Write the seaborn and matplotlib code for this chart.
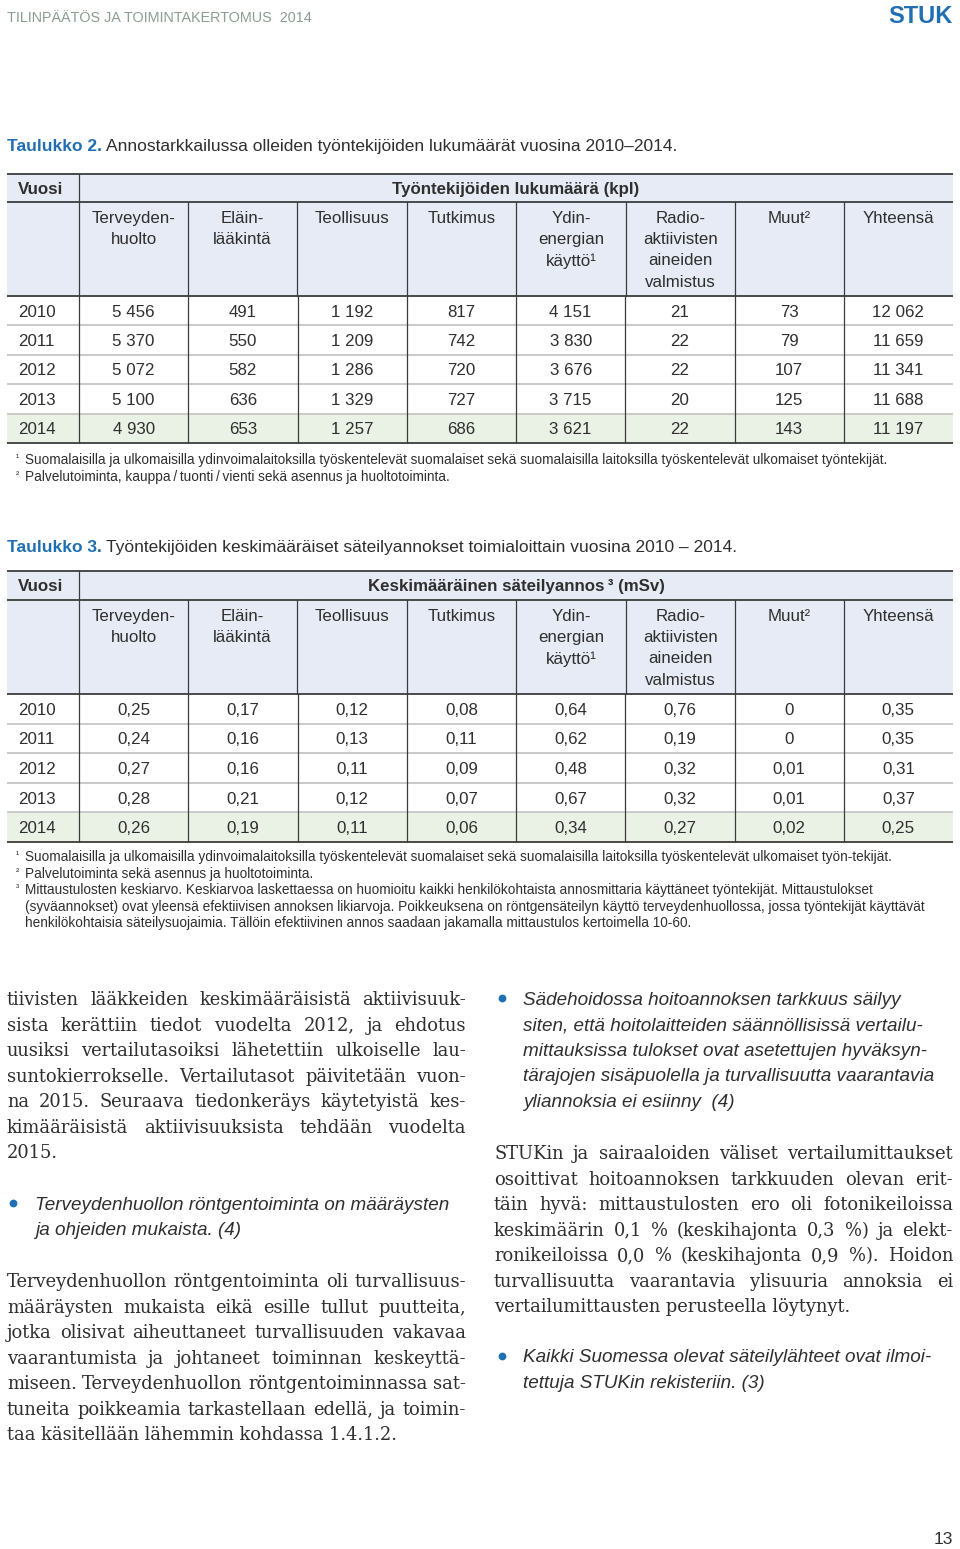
import numpy as np
import pandas as pd
import matplotlib
matplotlib.use("Agg")
import matplotlib.pyplot as plt
import seaborn as sns
from matplotlib.colors import ListedColormap
from matplotlib.patches import Rectangle

sns.set_theme(style="white")
plt.rcParams['font.family'] = ['Liberation Sans', 'DejaVu Sans']

# ---------------- data ----------------
years = [2010, 2011, 2012, 2013, 2014]
categories = ["Terveyden-\nhuolto", "Eläin-\nlääkintä", "Teollisuus", "Tutkimus",
              "Ydin-\nenergian\nkäyttö¹", "Radio-\naktiivisten\naineiden\nvalmistus",
              "Muut²", "Yhteensä"]

# Taulukko 2: työntekijöiden lukumäärä (kpl)
n_terveydenhuolto = [5456, 5370, 5072, 5100, 4930]
n_elainlaakinta = [491, 550, 582, 636, 653]
n_teollisuus = [1192, 1209, 1286, 1329, 1257]
n_tutkimus = [817, 742, 720, 727, 686]
n_ydinenergia = [4151, 3830, 3676, 3715, 3621]
n_radioakt = [21, 22, 22, 20, 22]
n_muut = [73, 79, 107, 125, 143]
n_yhteensa = [12062, 11659, 11341, 11688, 11197]

# Taulukko 3: keskimääräinen säteilyannos (mSv)
d_terveydenhuolto = [0.25, 0.24, 0.27, 0.28, 0.26]
d_elainlaakinta = [0.17, 0.16, 0.16, 0.21, 0.19]
d_teollisuus = [0.12, 0.13, 0.11, 0.12, 0.11]
d_tutkimus = [0.08, 0.11, 0.09, 0.07, 0.06]
d_ydinenergia = [0.64, 0.62, 0.48, 0.67, 0.34]
d_radioakt = [0.76, 0.19, 0.32, 0.32, 0.27]
d_muut = [0, 0, 0.01, 0.01, 0.02]
d_yhteensa = [0.35, 0.35, 0.31, 0.37, 0.25]

highlight_year = 2014

# ---------------- style ----------------
TXT = "#2f2f2f"
BLUE = "#1f6fb2"
HEAD_BG = "#e6ebf5"
HL_BG = "#eaf1e5"
DARK_LINE = "#3c3c3c"
LIGHT_LINE = "#c6c6c6"
SANS = ['Liberation Sans', 'DejaVu Sans']
SERIF = ['DejaVu Serif']

W, H = 960, 1549
fig = plt.figure(figsize=(W / 100, H / 100), dpi=100)
fig.patch.set_facecolor("white")


def rect(x0, y0, x1, y1):
    return [x0 / W, 1 - y1 / H, (x1 - x0) / W, (y1 - y0) / H]


page = fig.add_axes([0, 0, 1, 1])
page.set_xlim(0, W)
page.set_ylim(H, 0)
page.axis("off")
page.set_zorder(10)
page.patch.set_alpha(0)

renderer = fig.canvas.get_renderer()

col_edges = [7, 79, 188, 297, 407, 516, 626, 735, 844, 953]
TS = 12.2


def fmt_int(v):
    return f"{v:,}".replace(",", " ")


def fmt_dec(v):
    return "0" if v == 0 else f"{v:.2f}".replace(".", ",")


def draw_table(top, h1b, h2b, bottom, header, df, fmt):
    page.add_patch(Rectangle((col_edges[0], top), col_edges[-1] - col_edges[0], h2b - top,
                             fc=HEAD_BG, ec="none", zorder=0))
    page.text(18, (top + h1b) / 2 + 1, "Vuosi", weight="bold", fontsize=TS,
              color=TXT, va="center", ha="left")
    page.text((col_edges[1] + col_edges[-1]) / 2, (top + h1b) / 2 + 1, header,
              weight="bold", fontsize=TS, color=TXT, va="center", ha="center")
    for i, lab in enumerate(df.columns):
        cx = (col_edges[i + 1] + col_edges[i + 2]) / 2
        for j, line in enumerate(lab.split("\n")):
            page.text(cx, h2b - 78 + j * 21.4, line, ha="center", va="center",
                      fontsize=TS, color=TXT)
    hl = np.array([[1.0 if y == highlight_year else 0.0] * df.shape[1] for y in df.index])
    labels = df.apply(lambda c: c.map(fmt)).values
    cmap = ListedColormap(["white", HL_BG])
    ax_y = fig.add_axes(rect(col_edges[0], h2b, col_edges[1], bottom))
    sns.heatmap(hl[:, :1], ax=ax_y, cmap=cmap, vmin=0, vmax=1, cbar=False,
                annot=np.array([[str(y)] for y in df.index]), fmt="",
                annot_kws=dict(fontsize=TS, color=TXT),
                xticklabels=False, yticklabels=False)
    for t in ax_y.texts:
        t.set_ha("left")
        t.set_x((18 - col_edges[0]) / (col_edges[1] - col_edges[0]))
        t.set_y(t.get_position()[1] + 0.05)
    ax_b = fig.add_axes(rect(col_edges[1], h2b, col_edges[-1], bottom))
    sns.heatmap(hl, ax=ax_b, cmap=cmap, vmin=0, vmax=1, cbar=False,
                annot=labels, fmt="", annot_kws=dict(fontsize=TS, color=TXT),
                xticklabels=False, yticklabels=False)
    for t in ax_b.texts:
        t.set_y(t.get_position()[1] + 0.05)
    for ax in (ax_y, ax_b):
        for k in range(1, df.shape[0]):
            ax.axhline(k, color=LIGHT_LINE, lw=1.3)
    for k in range(0, df.shape[1]):
        ax_b.axvline(k, color=DARK_LINE, lw=0.9, clip_on=False)
    for y in [top, h1b, h2b, bottom]:
        page.plot([col_edges[0], col_edges[-1]], [y, y], color=DARK_LINE, lw=1.3,
                  solid_capstyle="butt")
    page.plot([col_edges[1]] * 2, [top, h2b], color=DARK_LINE, lw=0.9)
    for x in col_edges[2:-1]:
        page.plot([x, x], [h1b, h2b], color=DARK_LINE, lw=0.9)


def title(y, blue, rest):
    t = page.text(7, y, blue, color=BLUE, fontsize=12.5, va="center", ha="left",
                  weight="semibold")
    w = t.get_window_extent(renderer).width
    page.text(7 + w + 4, y, rest, color=TXT, fontsize=12.5, va="center", ha="left")


def word_widths(words, size, family, style="normal"):
    ws = []
    for w in words:
        t = page.text(0, 0, w, fontsize=size, family=family, style=style)
        ws.append(t.get_window_extent(renderer).width)
        t.remove()
    return ws


def fit_size(paragraphs, width, family, ref=10.0, min_gap_em=0.24, cap=13.6):
    best = cap
    for lines in paragraphs:
        for line in lines[:-1]:
            words = line.split(" ")
            ws = word_widths(words, ref, family)
            need = sum(ws) + (len(words) - 1) * min_gap_em * ref * 100 / 72
            best = min(best, ref * width / need)
    return best


def justify(lines, x0, x1, y0, dy, size, family, style="normal"):
    for i, line in enumerate(lines):
        y = y0 + i * dy
        words = line.split(" ")
        if i == len(lines) - 1 or len(words) == 1:
            page.text(x0, y, line, fontsize=size, family=family, style=style,
                      color=TXT, va="center", ha="left")
            continue
        ts = [page.text(0, y, w, fontsize=size, family=family, style=style,
                        color=TXT, va="center", ha="left") for w in words]
        ws = [t.get_window_extent(renderer).width for t in ts]
        gap = (x1 - x0 - sum(ws)) / (len(words) - 1)
        x = x0
        for t, w in zip(ts, ws):
            t.set_x(x)
            x += w + gap


def ragged(lines, x0, y0, dy, size, family, style="normal"):
    for i, line in enumerate(lines):
        page.text(x0, y0 + i * dy, line, fontsize=size, family=family, style=style,
                  color=TXT, va="center", ha="left")


def bullet(x, y):
    page.plot([x], [y], marker="o", ms=5.6, color=BLUE, mec="none")


# ---------------- page header ----------------
page.text(7, 18, "TILINPÄÄTÖS JA TOIMINTAKERTOMUS  2014", color="#8a9e90",
          fontsize=10.4, va="center", ha="left")
page.text(953, 16, "STUK", color=BLUE, fontsize=17, weight="bold", va="center", ha="right")

# ---------------- Taulukko 2 ----------------
title(146, "Taulukko 2.", "Annostarkkailussa olleiden työntekijöiden lukumäärät vuosina 2010–2014.")
df2 = pd.DataFrame({c: v for c, v in zip(categories, [
    n_terveydenhuolto, n_elainlaakinta, n_teollisuus, n_tutkimus,
    n_ydinenergia, n_radioakt, n_muut, n_yhteensa])}, index=years)
draw_table(174, 202, 296, 443, "Työntekijöiden lukumäärä (kpl)", df2, fmt_int)

FN = 9.85
SUP = 7
fn2 = [("¹", "Suomalaisilla ja ulkomaisilla ydinvoimalaitoksilla työskentelevät suomalaiset sekä suomalaisilla laitoksilla työskentelevät ulkomaiset työntekijät."),
       ("²", "Palvelutoiminta, kauppa\u2009/\u2009tuonti\u2009/\u2009vienti sekä asennus ja huoltotoiminta.")]
for i, (s, t) in enumerate(fn2):
    page.text(16, 458 + i * 17, s, fontsize=SUP, color=TXT, va="center", ha="left")
    page.text(25, 460 + i * 17, t, fontsize=FN, color=TXT, va="center", ha="left")

# ---------------- Taulukko 3 ----------------
title(547, "Taulukko 3.", "Työntekijöiden keskimääräiset säteilyannokset toimialoittain vuosina 2010 – 2014.")
df3 = pd.DataFrame({c: v for c, v in zip(categories, [
    d_terveydenhuolto, d_elainlaakinta, d_teollisuus, d_tutkimus,
    d_ydinenergia, d_radioakt, d_muut, d_yhteensa])}, index=years)
draw_table(571, 600, 694, 842, "Keskimääräinen säteilyannos\u2009³ (mSv)", df3, fmt_dec)

fn3 = [("¹", ["Suomalaisilla ja ulkomaisilla ydinvoimalaitoksilla työskentelevät suomalaiset sekä suomalaisilla laitoksilla työskentelevät ulkomaiset työn-tekijät."]),
       ("²", ["Palvelutoiminta sekä asennus ja huoltotoiminta."]),
       ("³", ["Mittaustulosten keskiarvo. Keskiarvoa laskettaessa on huomioitu kaikki henkilökohtaista annosmittaria käyttäneet työntekijät. Mittaustulokset",
              "(syväannokset) ovat yleensä efektiivisen annoksen likiarvoja. Poikkeuksena on röntgensäteilyn käyttö terveydenhuollossa, jossa työntekijät käyttävät",
              "henkilökohtaisia säteilysuojaimia. Tällöin efektiivinen annos saadaan jakamalla mittaustulos kertoimella 10-60."])]
yy = 857
for s, ls in fn3:
    page.text(16, yy - 2, s, fontsize=SUP, color=TXT, va="center", ha="left")
    for l in ls:
        page.text(25, yy, l, fontsize=FN, color=TXT, va="center", ha="left")
        yy += 16.5

# ---------------- body text ----------------
DY = 25.55
ITAL = 13.6

p1 = ["tiivisten lääkkeiden keskimääräisistä aktiivisuuk-",
      "sista kerättiin tiedot vuodelta 2012, ja ehdotus",
      "uusiksi vertailutasoiksi lähetettiin ulkoiselle lau-",
      "suntokierrokselle. Vertailutasot päivitetään vuon-",
      "na 2015. Seuraava tiedonkeräys käytetyistä kes-",
      "kimääräisistä aktiivisuuksista tehdään vuodelta",
      "2015."]
p2 = ["Terveydenhuollon röntgentoiminta oli turvallisuus-",
      "määräysten mukaista eikä esille tullut puutteita,",
      "jotka olisivat aiheuttaneet turvallisuuden vakavaa",
      "vaarantumista ja johtaneet toiminnan keskeyttä-",
      "miseen. Terveydenhuollon röntgentoiminnassa sat-",
      "tuneita poikkeamia tarkastellaan edellä, ja toimin-",
      "taa käsitellään lähemmin kohdassa 1.4.1.2."]
p3 = ["STUKin ja sairaaloiden väliset vertailumittaukset",
      "osoittivat hoitoannoksen tarkkuuden olevan erit-",
      "täin hyvä: mittaustulosten ero oli fotonikeiloissa",
      "keskimäärin 0,1 % (keskihajonta 0,3 %) ja elekt-",
      "ronikeiloissa 0,0 % (keskihajonta 0,9 %). Hoidon",
      "turvallisuutta vaarantavia ylisuuria annoksia ei",
      "vertailumittausten perusteella löytynyt."]

BODY = fit_size([p1, p2, p3], 459, SERIF)

justify(p1, 7, 466, 1000, DY, BODY, SERIF)

bullet(13, 1203)
ragged(["Terveydenhuollon röntgentoiminta on määräysten",
        "ja ohjeiden mukaista. (4)"], 35, 1205, DY, ITAL, SANS, "italic")

justify(p2, 7, 466, 1282, DY, BODY, SERIF)

bullet(502, 998)
ragged(["Sädehoidossa hoitoannoksen tarkkuus säilyy",
        "siten, että hoitolaitteiden säännöllisissä vertailu-",
        "mittauksissa tulokset ovat asetettujen hyväksyn-",
        "tärajojen sisäpuolella ja turvallisuutta vaarantavia",
        "yliannoksia ei esiinny  (4)"], 523, 1000, DY, ITAL, SANS, "italic")

justify(p3, 494, 953, 1154, DY, BODY, SERIF)

bullet(502, 1356)
ragged(["Kaikki Suomessa olevat säteilylähteet ovat ilmoi-",
        "tettuja STUKin rekisteriin. (3)"], 523, 1358, DY, ITAL, SANS, "italic")

page.text(953, 1539, "13", fontsize=12.5, color=TXT, va="center", ha="right")

fig.savefig("out.png", dpi=100, facecolor="white")
